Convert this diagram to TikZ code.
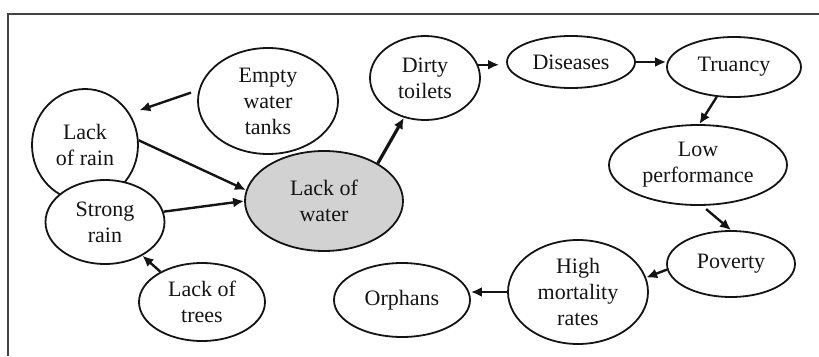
\documentclass[tikz,border=0pt]{standalone}
\usepackage{fontspec}
\setmainfont{Liberation Serif}
\usetikzlibrary{arrows.meta,shapes.geometric}
\definecolor{ink}{HTML}{141414}
\definecolor{fillgray}{HTML}{D2D2D2}
\tikzset{
  bub/.style={ellipse, draw=ink, line width=1.8pt, inner sep=0pt, align=center,
    text=ink, font=\fontsize{22}{26}\selectfont},
  arr/.style={draw=ink, line width=2.4pt, -{Latex[length=11pt,width=10pt]}},
}
\begin{document}
\begin{tikzpicture}[x=1pt,y=-1pt]
\useasboundingbox (0,0) rectangle (819,356);
\draw[ink!80, line width=1.2pt] (8,356) -- (8,14) -- (819,14);

\node[bub, minimum width=140pt, minimum height=106pt] (ewt) at (268,101) {Empty\\water\\tanks};
\node[bub, minimum width=106pt, minimum height=112pt] (lor) at (85,145) {Lack\\of rain};
\node[bub, fill=white, minimum width=119pt, minimum height=84pt] (sr) at (105,222) {Strong\\rain};
\node[bub, fill=fillgray, minimum width=158pt, minimum height=100pt] (low) at (324,201) {Lack of\\water};
\node[bub, minimum width=126pt, minimum height=78pt] (lot) at (202,302) {Lack of\\trees};
\node[bub, minimum width=110pt, minimum height=84pt] (dt) at (425,78) {Dirty\\toilets};
\node[bub, minimum width=128pt, minimum height=52pt] (dis) at (571,62) {Diseases};
\node[bub, minimum width=134pt, minimum height=60pt] (tru) at (734,67) {Truancy};
\node[bub, minimum width=178pt, minimum height=80pt] (lp) at (698,165) {Low\\performance};
\node[bub, minimum width=128pt, minimum height=66pt] (pov) at (731,264) {Poverty};
\node[bub, minimum width=140pt, minimum height=104pt] (hm) at (578,292) {High\\mortality\\rates};
\node[bub, minimum width=136pt, minimum height=74pt] (orp) at (402,300) {Orphans};

\draw[arr, shorten <=8pt, shorten >=10pt] (ewt.171) -- (lor.35);
\draw[arr] (lor.5) -- (low.172);
\draw[arr] (sr.10) -- (low.180);
\draw[arr] (lot.144) -- (sr.-42);
\draw[arr, line width=3.2pt] (low.35) -- (dt.242);
\draw[arr, shorten >=7pt] (dt.14) -- (dt.14 -| dis.west);
\draw[arr] (dis.east) -- (dis.east -| tru.west);
\draw[arr] (tru.-120) -- (lp.88);
\draw[arr, shorten <=5pt] (lp.-84) -- (pov.north);
\draw[arr] (pov.185) -- (hm.12);
\draw[arr] (hm.west) -- (hm.west -| orp.east);
\end{tikzpicture}
\end{document}
